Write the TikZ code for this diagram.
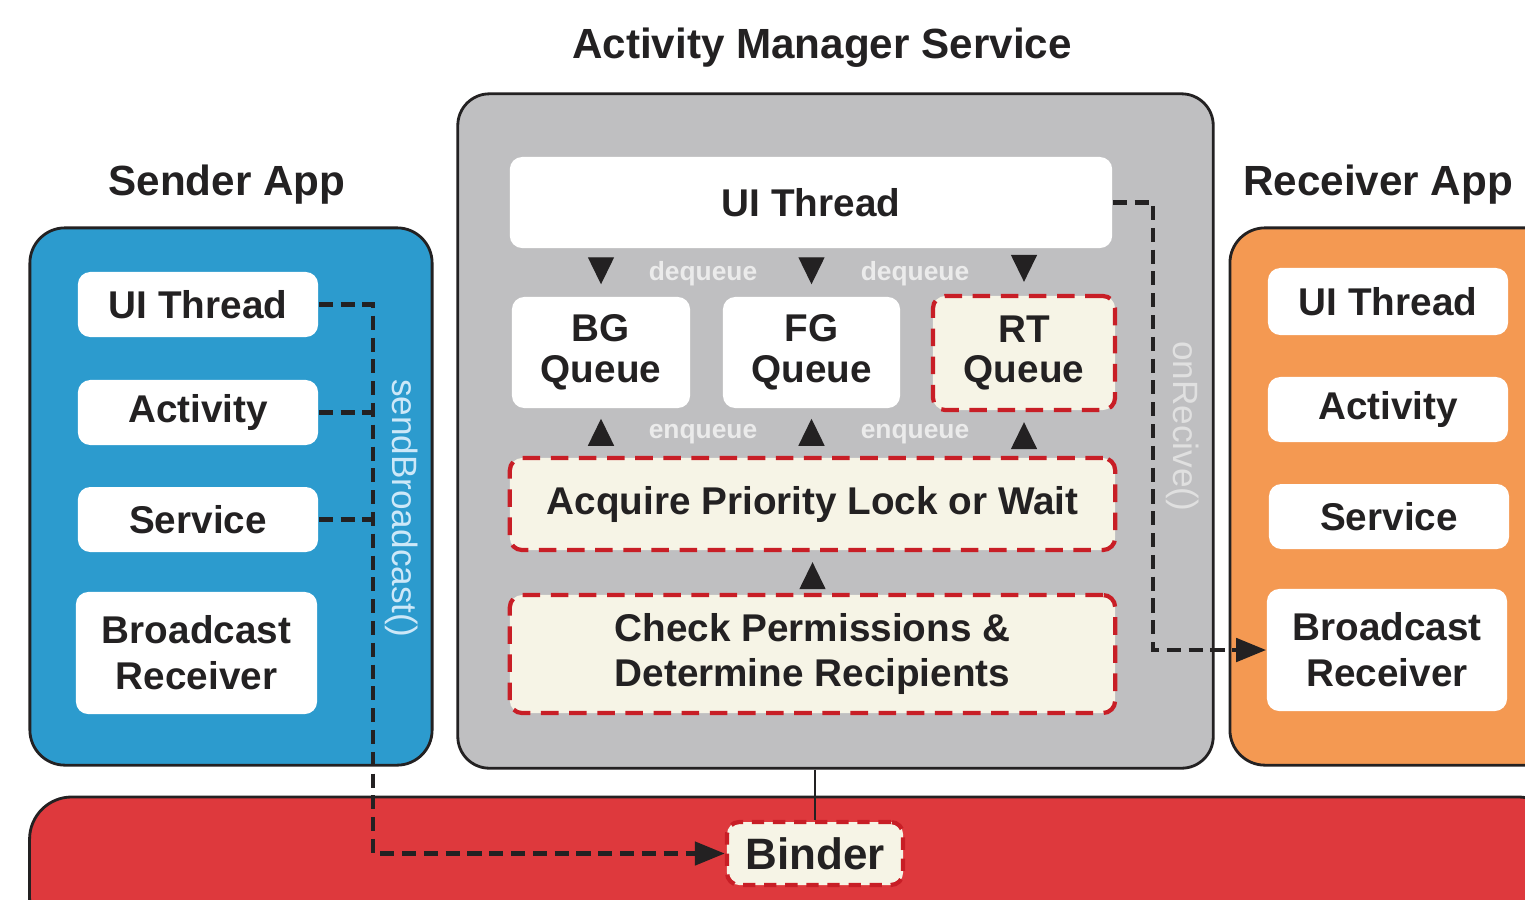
\documentclass[tikz,border=0pt]{standalone}
\usepackage{fontspec}
\setmainfont{Liberation Sans}
\usetikzlibrary{arrows.meta}
\definecolor{S}{RGB}{44,155,206}
\definecolor{O}{RGB}{244,153,82}
\definecolor{A}{RGB}{191,191,193}
\definecolor{K}{RGB}{222,57,61}
\definecolor{D}{RGB}{200,30,38}
\definecolor{C}{RGB}{246,244,230}
\definecolor{T}{RGB}{35,33,34}
\definecolor{L}{RGB}{205,232,248}

\begin{document}
\begin{tikzpicture}[x=0.01cm,y=-0.01cm,
  app/.style={draw=T,line width=0.8pt,rounded corners=10pt,inner sep=0pt},
  box/.style={fill=white,rounded corners=3.5pt,text=T,align=center,inner sep=0pt,font=\fontsize{11}{13}\selectfont\bfseries},
  hot/.style={box,fill=C,draw=D,line width=1.2pt,dash pattern=on 5pt off 3pt},
  ttl/.style={text=T,font=\fontsize{12}{14}\selectfont\bfseries},
  tag/.style={text=white!92!black,font=\fontsize{7.5}{9}\selectfont\bfseries},
  call/.style={font=\fontsize{10}{12}\selectfont,rotate=-90},
  tri/.style={-{Triangle[length=2.7mm,width=2.6mm]},T,line width=0.4pt},
  link/.style={T,line width=1.35pt,dash pattern=on 4pt off 2.2pt},
  msg/.style={link,-{Triangle[length=3mm,width=2.3mm]}}]
  \useasboundingbox (0,0) rectangle (1525,899);
  \clip (0,0) rectangle (1525,899);

  \node[ttl] (t-ams) at (822,48) {Activity Manager Service};
  \node[ttl] (t-snd) at (227,185) {Sender App};
  \node[ttl] (t-rcv) at (1378,185) {Receiver App};

  \node[app,fill=K,rounded corners=12pt,minimum width=15.3cm,minimum height=1.43cm] (bus) at (795,868.5) {};
  \node[app,fill=S,minimum width=4.02cm,minimum height=5.37cm] (snd) at (231,496.5) {};
  \node[app,fill=A,rounded corners=9pt,minimum width=7.55cm,minimum height=6.74cm] (ams) at (835.5,431) {};
  \node[app,fill=O,minimum width=3.3cm,minimum height=5.37cm] (rcv) at (1395,496.5) {};

  \node[box,minimum width=2.4cm,minimum height=0.65cm] (s-ui) at (198,304.5) {UI Thread};
  \node[box,minimum width=2.4cm,minimum height=0.65cm] (s-act) at (198,412.5) {Activity};
  \node[box,minimum width=2.4cm,minimum height=0.65cm] (s-svc) at (198,519.5) {Service};
  \node[box,minimum width=2.41cm,minimum height=1.22cm] (s-br) at (196.5,653) {Broadcast\\Receiver};

  \node[box,minimum width=2.4cm,minimum height=0.67cm] (r-ui) at (1388,301.5) {UI Thread};
  \node[box,minimum width=2.4cm,minimum height=0.65cm] (r-act) at (1388,409.5) {Activity};
  \node[box,minimum width=2.4cm,minimum height=0.65cm] (r-svc) at (1389,516.5) {Service};
  \node[box,minimum width=2.4cm,minimum height=1.22cm] (r-br) at (1387,650) {Broadcast\\Receiver};

  \node[box,minimum width=6.02cm,minimum height=0.91cm] (g-ui) at (811,202.5) {UI Thread};
  \node[box,font=\fontsize{11}{11.5}\selectfont\bfseries,minimum width=1.78cm,minimum height=1.11cm] (bg) at (601,352.5) {BG\\Queue};
  \node[box,font=\fontsize{11}{11.5}\selectfont\bfseries,minimum width=1.77cm,minimum height=1.11cm] (fg) at (811.5,352.5) {FG\\Queue};
  \node[hot,font=\fontsize{11}{11.5}\selectfont\bfseries,minimum width=1.82cm,minimum height=1.14cm] (rt) at (1024,353) {RT\\Queue};
  \node[hot,minimum width=6.05cm,minimum height=0.92cm] (acq) at (812.5,504) {Acquire Priority Lock or Wait};
  \node[hot,minimum width=6.05cm,minimum height=1.18cm] (chk) at (812.5,654) {Check Permissions \&\\Determine Recipients};

  \node[hot,font=\fontsize{12.5}{14}\selectfont\bfseries,dash pattern=on 3.5pt off 2.5pt,minimum width=1.76cm,minimum height=0.63cm] (bind) at (815,853.5) {Binder};

  \foreach \q in {bg,fg,rt}
    \draw[tri,shorten <=1mm,shorten >=1.2mm] (\q.north |- g-ui.south) -- (\q.north);
  \foreach \q in {bg,fg,rt}
    \draw[tri,shorten <=1.3mm,shorten >=1mm] (\q.south |- acq.north) -- (\q.south);
  \draw[tri,shorten <=0.8mm,shorten >=1mm] (chk.north) -- (acq.south);

  \node[tag] (dq1) at (703,274) {dequeue};
  \node[tag] (dq2) at (915,274) {dequeue};
  \node[tag] (eq1) at (703,434) {enqueue};
  \node[tag] (eq2) at (915,434) {enqueue};

  \coordinate (sb) at (373,0);
  \coordinate (rb) at (1153,0);
  \draw[msg] (s-ui.east) -- (s-ui.east -| sb) -- (sb |- bind.west) -- (bind.west);
  \draw[link] (s-act.east) -- (s-act.east -| sb);
  \draw[link] (s-svc.east) -- (s-svc.east -| sb);
  \draw[msg] (g-ui.east) -- (g-ui.east -| rb) -- (rb |- r-br.west) -- (r-br.west);
  \draw[T,line width=0.8pt] (bind.north |- ams.south) -- (bind.north);

  \node[call,text=L] (sendlbl) at (402,508) {sendBroadcast()};
  \node[call,text=white!88!black] (recvlbl) at (1183,426) {onRecive()};
\end{tikzpicture}
\end{document}
